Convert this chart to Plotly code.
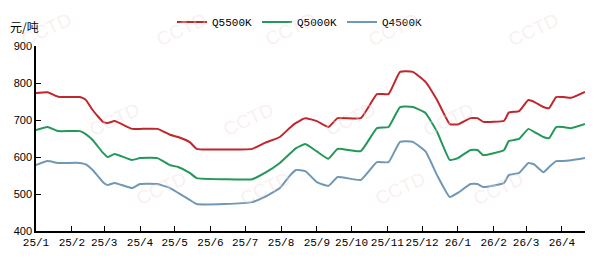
import plotly.graph_objects as go

dates = ["2025-01-01","2025-01-11","2025-01-20","2025-02-08","2025-02-13","2025-02-19",
         "2025-02-28","2025-03-04","2025-03-10","2025-03-25","2025-04-01","2025-04-16",
         "2025-04-27","2025-05-04","2025-05-14","2025-05-20","2025-06-13","2025-07-07",
         "2025-07-18","2025-07-31","2025-08-09","2025-08-14","2025-08-22","2025-09-01",
         "2025-09-11","2025-09-19","2025-10-09","2025-10-23","2025-11-02","2025-11-12",
         "2025-11-23","2025-12-04","2025-12-14","2025-12-25","2026-01-01","2026-01-12",
         "2026-01-18","2026-01-23","2026-02-10","2026-02-14","2026-02-23","2026-03-03",
         "2026-03-08","2026-03-16","2026-03-21","2026-03-27","2026-04-02","2026-04-09",
         "2026-04-21"]
q5500 = [773,775,763,762,755,727,695,692,697,676,676,676,660,654,640,622,620,622,638,654,
         680,692,705,697,681,705,705,770,770,830,830,803,754,689,688,705,705,695,698,720,
         724,754,749,735,732,762,762,760,776]
q5000 = [673,681,670,670,662,646,611,600,608,592,597,597,578,573,557,543,540,540,557,584,
         610,624,635,615,595,622,616,678,681,735,735,719,668,592,597,619,619,605,619,643,
         649,676,668,654,651,681,681,678,689]
q4500 = [578,589,584,584,580,565,532,524,530,516,527,527,516,503,484,473,473,478,492,516,
         551,565,562,532,522,546,538,586,586,641,641,615,551,492,503,527,527,519,530,551,
         557,584,580,559,573,589,589,591,597]

tick_vals = ["2025-01-01","2025-02-01","2025-03-01","2025-04-01","2025-05-01","2025-06-01",
             "2025-07-01","2025-08-01","2025-09-01","2025-10-01","2025-11-01","2025-12-01",
             "2026-01-01","2026-02-01","2026-03-01","2026-04-01"]
tick_text = ["25/1","25/2","25/3","25/4","25/5","25/6","25/7","25/8","25/9","25/10",
             "25/11","25/12","26/1","26/2","26/3","26/4"]

series = [("Q5500K", q5500, "#C0262C"), ("Q5000K", q5000, "#23985A"), ("Q4500K", q4500, "#6F97B6")]

L, R, T, B = 36, 585, 46, 231

def px2paper(px, py):
    return (px - L) / (R - L), (B - py) / (B - T)

fig = go.Figure()
for name, vals, col in series:
    fig.add_trace(go.Scatter(x=dates, y=vals, name=name, mode="lines",
                             line=dict(color=col, width=2, shape="spline", smoothing=0.4)))

# faint watermarks
wm = [(15,6),(150,6),(290,6),(425,6),(565,6),
      (83,96),(217,96),(350,96),(480,96),
      (130,212),(265,212),(400,212),(530,212)]
for (px, py) in wm:
    xx, yy = px2paper(px, py)
    fig.add_annotation(x=xx, y=yy, xref="paper", yref="paper", text="CCTD",
                       showarrow=False, textangle=-25,
                       font=dict(family="Liberation Sans", size=19, color="rgba(240,215,215,0.4)"))

xx, yy = px2paper(8, 27)
fig.add_annotation(x=xx, y=yy, xref="paper", yref="paper", xanchor="left",
                   yanchor="middle", text="元/吨", showarrow=False,
                   font=dict(family="Noto Sans CJK SC", size=12, color="#000"))

fig.update_layout(
    width=596, height=262,
    margin=dict(l=L, r=596 - R, t=T, b=262 - B, autoexpand=False),
    paper_bgcolor="white", plot_bgcolor="white",
    showlegend=True,
    legend=dict(orientation="h", x=172/596, xanchor="left", y=1-22/262, yanchor="middle",
                xref="container", yref="container",
                font=dict(family="Liberation Mono", size=11, color="#000"),
                itemwidth=30, entrywidth=40, entrywidthmode="pixels", tracegroupgap=0),
    xaxis=dict(type="date", range=["2025-01-01","2026-04-21"], tickvals=tick_vals,
               ticktext=tick_text, tickangle=0, automargin=False,
               ticks="inside", ticklen=5, tickcolor="#000",
               showline=True, linecolor="#000", linewidth=1.5, showgrid=False, zeroline=False,
               tickfont=dict(family="Liberation Mono", size=11, color="#000")),
    yaxis=dict(range=[400,900], dtick=100, ticks="inside", ticklen=5, tickcolor="#000",
               automargin=False,
               showline=True, linecolor="#000", linewidth=1.5, showgrid=False, zeroline=False,
               tickfont=dict(family="Liberation Sans", size=11, color="#000")),
)

fig.write_html("out.html")
